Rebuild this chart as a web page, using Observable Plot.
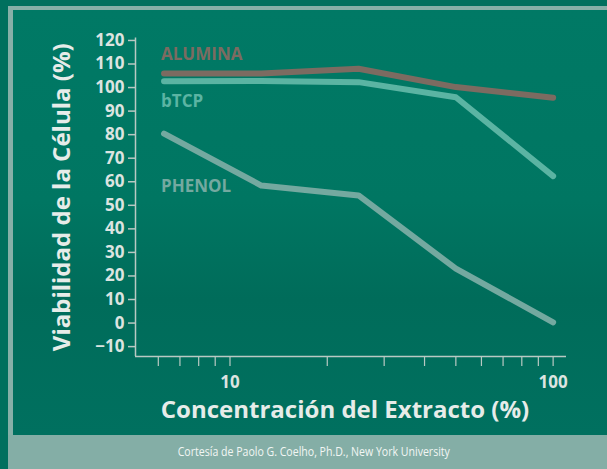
<!DOCTYPE html>
<html>
<head>
<meta charset="utf-8">
<script src="https://cdn.jsdelivr.net/npm/d3@7"></script>
<script src="https://cdn.jsdelivr.net/npm/@observablehq/plot@0.6"></script>
<style>
  html, body { margin: 0; padding: 0; }
  body { width: 607px; height: 469px; overflow: hidden; background: #00705e; }
  #wrap { position: relative; width: 607px; height: 469px; background: #00705e; }
  #inner { position: absolute; left: 8px; top: 6px; width: 599px; height: 429px;
    border-left: 5px solid #86b0a8; border-top: 4px solid #86b0a8; box-sizing: border-box;
    background: linear-gradient(to bottom, #007965 0%, #007662 45%, #006c5a 68%, #00705f 100%); }
  #chart { position: absolute; left: 0; top: 0; }
  #caption { position: absolute; left: 8px; top: 435px; width: 599px; height: 34px;
    background: #84aea6; color: #f2f6f4; font-family: "Open Sans", sans-serif;
    font-size: 12px; line-height: 34px; text-align: center; }
  #caption span { display: inline-block; transform: scaleX(0.88); transform-origin: center; white-space: nowrap; padding-left: 14px; }
</style>
</head>
<body>
<div id="wrap">
  <div id="inner"></div>
  <div id="chart"></div>
  <div id="caption"><span>Cortesía de Paolo G. Coelho, Ph.D., New York University</span></div>
</div>
<script>
const concentrations = [6.25, 12.5, 25, 50, 100];
const seriesNames = ["ALUMINA", "bTCP", "PHENOL"];
const alumina = [106, 106, 108, 100.2, 95.7];
const btcp = [102.7, 102.8, 102.3, 95.9, 62.4];
const phenol = [80.4, 58.4, 54.2, 23.1, 0.3];
const yTicks = [-10, 0, 10, 20, 30, 40, 50, 60, 70, 80, 90, 100, 110, 120];
const xTicks = [6, 7, 8, 9, 10, 20, 30, 40, 50, 60, 70, 80, 90, 100];
const xLabeled = [10, 100];
const yTitle = "Viabilidad de la Célula (%)";
const xTitle = "Concentración del Extracto (%)";

const colors = {ALUMINA: "#7c6b61", bTCP: "#5bb4a3", PHENOL: "#74a9a0"};
const labelDy = {ALUMINA: -19, bTCP: 20, PHENOL: 53};

const valuesBySeries = {ALUMINA: alumina, bTCP: btcp, PHENOL: phenol};
const data = seriesNames.flatMap(s => concentrations.map((c, i) => ({series: s, x: c, y: valuesBySeries[s][i]})));
const firsts = seriesNames.map(s => data.find(d => d.series === s));

const xDomain = [5.1, 110];
const yDomain = [-14.2, 121];
const fontFamily = "'Open Sans', sans-serif";
const light = "#dce4e0";
const axisCol = "#b9c9c3";

const chart = Plot.plot({
  width: 607,
  height: 435,
  marginLeft: 135,
  marginRight: 41,
  marginTop: 37.6,
  marginBottom: 79,
  style: {background: "transparent", color: light, fontFamily},
  x: {type: "log", domain: xDomain, axis: null},
  y: {domain: yDomain, axis: null},
  marks: [
    Plot.ruleX([xDomain[0]], {y1: yDomain[0], y2: yDomain[1], stroke: axisCol, strokeWidth: 1.5}),
    Plot.ruleY([yDomain[0]], {x1: xDomain[0], x2: xDomain[1], stroke: axisCol, strokeWidth: 1.5}),
    Plot.axisY({ticks: yTicks, tickSize: 7, tickPadding: 4, stroke: axisCol, strokeWidth: 1.5,
      fontSize: 17, fontWeight: "bold", fill: light, label: null}),
    Plot.axisX({ticks: xTicks, tickSize: 10, tickPadding: 9, stroke: axisCol, strokeWidth: 1.2,
      fontSize: 17, fontWeight: "bold", fill: light, label: null,
      tickFormat: d => xLabeled.includes(d) ? String(d) : ""}),
    Plot.line(data, {x: "x", y: "y", z: "series", stroke: d => colors[d.series], strokeWidth: 6,
      strokeLinecap: "round", strokeLinejoin: "round"}),
    ...firsts.map(d => Plot.text([d], {x: "x", y: "y", text: "series", fill: colors[d.series],
      textAnchor: "start", dx: -3, dy: labelDy[d.series], fontSize: 17, fontWeight: "bold"})),
    Plot.text([yTitle], {frameAnchor: "left", textAnchor: "middle", lineAnchor: "middle", dx: -73, rotate: -90,
      fontSize: 24, fontWeight: "bold", fill: "#e6ece9"}),
    Plot.text([xTitle], {frameAnchor: "bottom", textAnchor: "middle", lineAnchor: "middle", dx: -6, dy: 54,
      fontSize: 24, fontWeight: "bold", fill: "#e6ece9"})
  ]
});
document.getElementById("chart").appendChild(chart);
</script>
</body>
</html>
